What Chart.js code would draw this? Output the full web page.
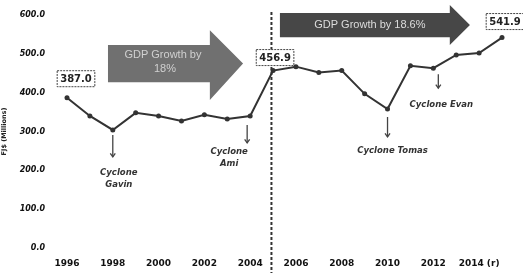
<!DOCTYPE html>
<html><head><meta charset="utf-8">
<script src="https://cdn.jsdelivr.net/npm/chart.js@4/dist/chart.umd.min.js"></script>
<style>html,body{margin:0;padding:0;background:#fff}#wrap{width:523px;height:273px}</style>
</head><body><div id="wrap"><canvas id="c" width="523" height="273"></canvas></div>
<script>
const years = ['1996','1997','1998','1999','2000','2001','2002','2003','2004','2005','2006','2007','2008','2009','2010','2011','2012','2013','2014 (r)','2015'];
const gdp = [387.0, 340, 304, 348, 340, 327, 343, 332, 340, 456.9, 467, 452, 457, 397, 358, 469, 463, 497, 502, 541.9];
const yTicks = [0, 100, 200, 300, 400, 500, 600];
const boxedPoints = [0, 9, 19];
const cyclones = [
  {idx: 2, lines: ['Cyclone', 'Gavin']},
  {idx: 8, lines: ['Cyclone', 'Ami']},
  {idx: 14, lines: ['Cyclone Tomas']},
  {idx: 16, lines: ['Cyclone Evan']}
];
const growthArrows = [
  {from: 0.8, to: 7.7, lines: ['GDP Growth by', '18%']},
  {from: 9.3, to: 17.6, lines: ['GDP Growth by 18.6%']}
];

const annot = {
  id: 'annot',
  afterDatasetsDraw(chart) {
    const ctx = chart.ctx, xs = chart.scales.x, ys = chart.scales.y;
    const X = v => xs.getPixelForValue(v), Y = v => ys.getPixelForValue(v);
    ctx.save();
    // dashed divider
    ctx.strokeStyle = '#333'; ctx.lineWidth = 2; ctx.setLineDash([3, 2]);
    ctx.beginPath(); ctx.moveTo(X(8.93), Y(600) - 3); ctx.lineTo(X(8.93), chart.height); ctx.stroke();
    ctx.setLineDash([]);
    // growth arrows
    growthArrows.forEach((a, k) => {
      let bodyL, bodyR, tip, bt, bb, ht, hb, fill, tcol;
      if (k === 0) {
        bodyL = X(1.79); bodyR = X(6.24); tip = X(7.69);
        bt = Y(523); bb = Y(427); ht = Y(561); hb = Y(381); fill = '#707070'; tcol = '#d0d0d0';
      } else {
        bodyL = X(9.3); bodyR = X(16.72); tip = X(17.6);
        bt = Y(605); bb = Y(543); ht = Y(626); hb = Y(523); fill = '#474747'; tcol = '#dcdcdc';
      }
      const mid = (bt + bb) / 2;
      ctx.fillStyle = fill;
      ctx.beginPath();
      ctx.moveTo(bodyL, bt); ctx.lineTo(bodyR, bt); ctx.lineTo(bodyR, ht); ctx.lineTo(tip, mid);
      ctx.lineTo(bodyR, hb); ctx.lineTo(bodyR, bb); ctx.lineTo(bodyL, bb); ctx.closePath(); ctx.fill();
      ctx.fillStyle = tcol; ctx.textAlign = 'center'; ctx.textBaseline = 'middle';
      ctx.font = '11px "Liberation Sans", sans-serif';
      if (a.lines.length === 2) {
        ctx.fillText(a.lines[0], (bodyL + bodyR) / 2 + 4, mid - 9);
        ctx.fillText(a.lines[1], (bodyL + bodyR) / 2 + 6, mid + 5);
      } else {
        ctx.fillText(a.lines[0], (bodyL + bodyR) / 2 + 5, mid);
      }
    });
    // value boxes
    ctx.font = 'bold 10px "DejaVu Sans", sans-serif';
    boxedPoints.forEach((i, k) => {
      const px = X(i), py = Y(gdp[i]);
      const txt = gdp[i].toFixed(1);
      const w = ctx.measureText(txt).width + 6, h = 16;
      const dx = [9, 2, 3][k], dy = [-19, -13, -16][k];
      const cx = px + dx, cy = py + dy;
      ctx.fillStyle = '#fff'; ctx.fillRect(cx - w / 2, cy - h / 2, w, h);
      ctx.strokeStyle = '#444'; ctx.lineWidth = 1; ctx.setLineDash([2, 1]);
      ctx.strokeRect(cx - w / 2, cy - h / 2, w, h); ctx.setLineDash([]);
      ctx.fillStyle = '#222'; ctx.textAlign = 'center'; ctx.textBaseline = 'middle';
      ctx.fillText(txt, cx, cy + 1);
    });
    // cyclone markers
    ctx.font = 'italic bold 8.5px "DejaVu Sans", sans-serif';
    cyclones.forEach((c, k) => {
      const px = X(c.idx), py = Y(gdp[c.idx]);
      const ax = px + [0, -3, 0, 5][k];
      const a0 = py + [5, 9, 8, 6][k], a1 = py + [27, 27, 28, 20][k];
      ctx.strokeStyle = '#444'; ctx.lineWidth = 1.3;
      ctx.beginPath(); ctx.moveTo(ax, a0); ctx.lineTo(ax, a1); ctx.stroke();
      ctx.beginPath(); ctx.moveTo(ax - 2.5, a1 - 3.5); ctx.lineTo(ax, a1); ctx.lineTo(ax + 2.5, a1 - 3.5); ctx.stroke();
      ctx.fillStyle = '#333'; ctx.textAlign = 'center'; ctx.textBaseline = 'middle';
      const tx = px + [6, -21, 5, 8][k];
      const ty = a1 + [16, 9, 14, 17][k];
      c.lines.forEach((l, j) => ctx.fillText(l, tx, ty + j * 12));
    });
    ctx.restore();
  }
};

new Chart(document.getElementById('c'), {
  type: 'line',
  data: {
    labels: years,
    datasets: [{
      data: gdp,
      borderColor: '#333', backgroundColor: '#333',
      borderWidth: 2, pointRadius: 2.5, pointBackgroundColor: '#333', pointBorderWidth: 0,
      tension: 0, clip: false
    }]
  },
  options: {
    responsive: false, animation: false, maintainAspectRatio: false,
    layout: {padding: {top: 15, right: 21, left: 0, bottom: 0}},
    plugins: {legend: {display: false}, tooltip: {enabled: false}},
    scales: {
      x: {
        offset: false,
        grid: {display: false, drawTicks: false}, border: {display: false},
        afterFit(s) { s.height = 25; s.paddingLeft = 0; s.paddingRight = 0; },
        ticks: {
          autoSkip: false, maxRotation: 0, padding: 10, color: '#111',
          font: {family: '"DejaVu Sans", sans-serif', weight: 'bold', size: 9},
          callback: (v, i) => (i % 2 === 0 ? years[i] : '')
        }
      },
      y: {
        min: 0, max: 600,
        afterBuildTicks(s) { s.ticks = yTicks.map(v => ({value: v})); },
        afterFit(s) { s.width = 67; s.paddingTop = 0; s.paddingBottom = 0; },
        grid: {display: false, drawTicks: false}, border: {display: false},
        title: {display: true, text: 'FJ$ (Millions)', color: '#222', padding: {top: 0, bottom: 0},
          font: {family: '"DejaVu Sans", sans-serif', weight: 'bold', size: 6.5}},
        ticks: {
          padding: 22, color: '#111',
          font: {family: '"DejaVu Sans", sans-serif', weight: 'bold', style: 'italic', size: 8},
          callback: v => Number(v).toFixed(1)
        }
      }
    }
  },
  plugins: [annot]
});
</script></body></html>
